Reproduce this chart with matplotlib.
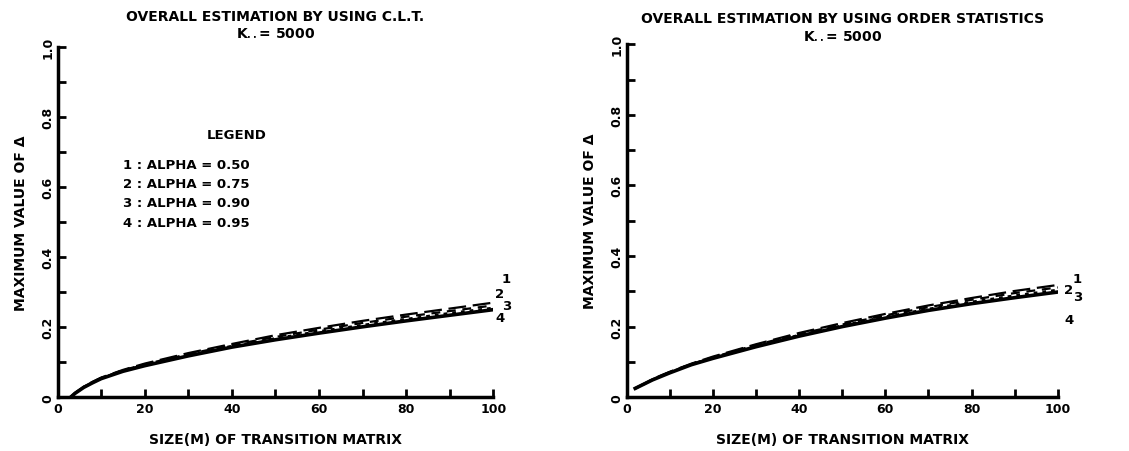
import matplotlib.pyplot as plt
from matplotlib.ticker import MultipleLocator

# sizes of the transition matrix
size_clt = [3, 4, 6, 8, 10, 15, 20, 30, 40, 50, 60, 70, 80, 90, 100]
size_os = [2, 4, 6, 8, 10, 15, 20, 30, 40, 50, 60, 70, 80, 90, 100]

# left panel: C.L.T.
clt_1 = [0.0, 0.012, 0.030, 0.044, 0.056, 0.078, 0.096, 0.126, 0.152, 0.177, 0.198, 0.218, 0.236, 0.253, 0.270]
clt_2 = [0.0, 0.012, 0.029, 0.043, 0.055, 0.077, 0.094, 0.123, 0.149, 0.172, 0.193, 0.212, 0.230, 0.246, 0.262]
clt_3 = [0.0, 0.011, 0.029, 0.042, 0.054, 0.076, 0.092, 0.121, 0.146, 0.168, 0.188, 0.206, 0.223, 0.240, 0.255]
clt_4 = [0.0, 0.011, 0.028, 0.041, 0.053, 0.074, 0.090, 0.118, 0.143, 0.164, 0.183, 0.201, 0.218, 0.234, 0.250]

# right panel: order statistics
os_1 = [0.025, 0.038, 0.051, 0.062, 0.072, 0.095, 0.115, 0.150, 0.182, 0.210, 0.236, 0.260, 0.281, 0.301, 0.318]
os_2 = [0.025, 0.038, 0.050, 0.061, 0.071, 0.094, 0.113, 0.148, 0.179, 0.206, 0.232, 0.255, 0.276, 0.295, 0.311]
os_3 = [0.025, 0.037, 0.050, 0.060, 0.070, 0.093, 0.112, 0.146, 0.176, 0.203, 0.228, 0.250, 0.270, 0.288, 0.304]
os_4 = [0.025, 0.037, 0.049, 0.059, 0.069, 0.092, 0.110, 0.143, 0.173, 0.200, 0.224, 0.246, 0.265, 0.282, 0.298]

legend_lines = ["1 : ALPHA = 0.50", "2 : ALPHA = 0.75", "3 : ALPHA = 0.90", "4 : ALPHA = 0.95"]

plt.rcParams['font.family'] = 'DejaVu Sans'
plt.rcParams['font.weight'] = 'bold'
plt.rcParams['axes.labelweight'] = 'bold'

fig = plt.figure(figsize=(11.29, 4.52), dpi=100)
ax1 = fig.add_axes([0.051, 0.119, 0.386, 0.775])
ax2 = fig.add_axes([0.555, 0.119, 0.382, 0.781])

styles = [
    dict(ls=(0, (8, 3)), lw=1.6),
    dict(ls=(0, (4, 3)), lw=1.6),
    dict(ls=(0, (1.5, 2)), lw=1.8),
    dict(ls='-', lw=2.6),
]


def style_axes(ax):
    ax.set_xlim(0, 100)
    ax.set_ylim(0, 1.0)
    for s in ['top', 'right']:
        ax.spines[s].set_visible(False)
    for s in ['left', 'bottom']:
        ax.spines[s].set_linewidth(2.5)
    ax.xaxis.set_major_locator(MultipleLocator(20))
    ax.xaxis.set_minor_locator(MultipleLocator(10))
    ax.yaxis.set_major_locator(MultipleLocator(0.2))
    ax.yaxis.set_minor_locator(MultipleLocator(0.1))
    ax.tick_params(which='both', direction='in', width=2, length=6, labelsize=9)
    ax.tick_params(axis='y', pad=2)
    ax.set_yticks([0, 0.2, 0.4, 0.6, 0.8, 1.0])
    ax.set_yticklabels(['0', '0.2', '0.4', '0.6', '0.8', '1.0'], rotation=90, va='center')
    ax.set_xticks([0, 20, 40, 60, 80, 100])
    ax.set_xticklabels(['0', '20', '40', '60', '80', '100'])
    ax.set_xlabel('SIZE(M) OF TRANSITION MATRIX', fontsize=10, labelpad=12)
    ax.set_ylabel('MAXIMUM VALUE OF Δ', fontsize=10, labelpad=10)


for ys, st in zip([clt_1, clt_2, clt_3, clt_4], styles):
    ax1.plot(size_clt, ys, color='black', **st)
for ys, st in zip([os_1, os_2, os_3, os_4], styles):
    ax2.plot(size_os, ys, color='black', **st)

style_axes(ax1)
style_axes(ax2)

ax1.set_title('OVERALL ESTIMATION BY USING C.L.T.\nK$_{\\cdot\\cdot}$= 5000', fontsize=10, fontweight='bold', pad=8)
ax2.set_title('OVERALL ESTIMATION BY USING ORDER STATISTICS\nK$_{\\cdot\\cdot}$= 5000', fontsize=10, fontweight='bold', pad=4)

# legend block
ax1.text(0.41, 0.74, 'LEGEND', transform=ax1.transAxes, ha='center', fontsize=9.5)
for i, line in enumerate(legend_lines):
    ax1.text(0.15, 0.655 - i * 0.055, line, transform=ax1.transAxes, fontsize=9.5)

# curve numbers at right ends
for lab, (x, y) in zip(['1', '2', '3', '4'], [(103, 0.34), (101.5, 0.297), (103, 0.263), (101.5, 0.228)]):
    ax1.text(x, y, lab, fontsize=9.5, ha='center', va='center', clip_on=False)
for lab, (x, y) in zip(['1', '2', '3', '4'], [(104.5, 0.335), (102.5, 0.305), (104.5, 0.285), (102.5, 0.22)]):
    ax2.text(x, y, lab, fontsize=9.5, ha='center', va='center', clip_on=False)

plt.savefig('out.png', dpi=100)
